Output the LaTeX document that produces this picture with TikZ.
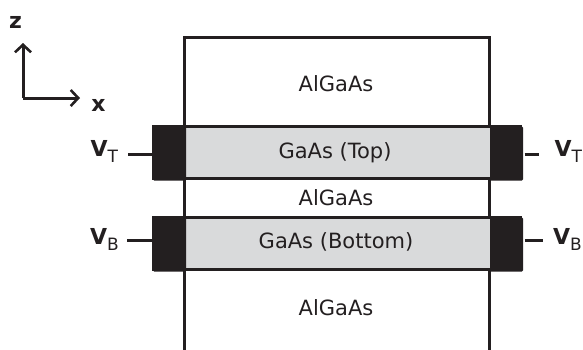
\documentclass[tikz,border=0pt]{standalone}
\usepackage{fontspec}
\setmainfont{DejaVu Sans}
\usetikzlibrary{arrows.meta}
\definecolor{layergray}{HTML}{D9DADB}
\definecolor{ink}{HTML}{231F20}
\begin{document}
\begin{tikzpicture}[x=1pt,y=-1pt,line width=3pt,draw=ink,
  contact/.style={fill=ink,draw=none,rounded corners=1.2pt,minimum width=33pt,minimum height=54pt,inner sep=0pt,anchor=north west},
  layertxt/.style={font=\fontsize{21}{21}\selectfont,text=ink},
  vlabel/.style={font=\fontsize{22}{22}\selectfont\bfseries,text=ink,inner sep=0pt},
  axislabel/.style={font=\fontsize{22}{22}\selectfont\bfseries,text=ink,inner sep=0pt},
  axis/.style={-{Straight Barb[length=7.5pt,width=16pt,line width=2.6pt]},line width=3pt}]
\useasboundingbox (0,0) rectangle (583,349);
% outer structure
\draw (184,350) -- (184,37) -- (489,37) -- (489,350);
% GaAs layers
\draw[fill=layergray] (153,126) rectangle (520,178);
\draw[fill=layergray] (153,217) rectangle (520,269);
% contacts
\node[contact] (cTL) at (151.5,125) {};
\node[contact] (cTR) at (488.5,125) {};
\node[contact] (cBL) at (151.5,216) {};
\node[contact] (cBR) at (488.5,216) {};
% layer texts
\node[layertxt] (a1) at (336,84) {AlGaAs};
\node[layertxt] (g1) at (335,153) {GaAs (Top)};
\node[layertxt] (a2) at (336,198) {AlGaAs};
\node[layertxt] (g2) at (336,242) {GaAs (Bottom)};
\node[layertxt] (a3) at (336,308) {AlGaAs};
% voltage labels
\newcommand{\vlab}[1]{V\raisebox{-6.5pt}{\fontsize{17}{17}\selectfont\mdseries #1}}
\node[vlabel,anchor=base west] (lT) at (89,156) {\vlab{T}};
\node[vlabel,anchor=base west] (lB) at (88.5,244) {\vlab{B}};
\node[vlabel,anchor=base west] (rT) at (553,156) {\vlab{T}};
\node[vlabel,anchor=base west] (rB) at (551.5,244) {\vlab{B}};
\coordinate (pTL) at (128,154);
\coordinate (pBL) at (127,240);
\coordinate (pTR) at (539,154);
\coordinate (pBR) at (543,240);
\draw (cTL.west |- pTL) -- (pTL);
\draw (cBL.west |- pBL) -- (pBL);
\draw (cTR.east |- pTR) -- (pTR);
\draw (cBR.east |- pBR) -- (pBR);
% axes
\coordinate (o) at (23,98);
\coordinate (zt) at (23,43);
\coordinate (xt) at (80,98);
\draw[axis] (o) -- (zt);
\draw[axis] (o) -- (xt);
\node[axislabel] (zl) at (15.5,22) {z};
\node[axislabel] (xl) at (98.5,105) {x};
\end{tikzpicture}
\end{document}
